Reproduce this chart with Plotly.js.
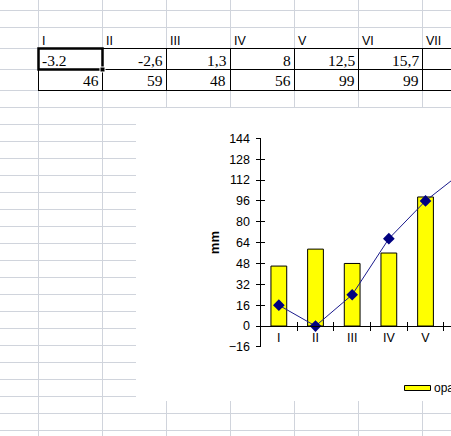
<!DOCTYPE html>
<html>
<head>
<meta charset="utf-8">
<script src="https://cdn.plot.ly/plotly-3.0.1.min.js"></script>
<style>
html,body{margin:0;padding:0;overflow:hidden;background:#fff;}
#chart{width:451px;height:436px;}
</style>
</head>
<body>
<div id="chart"></div>
<script>
// ---- data ----
const months = ['I','II','III','IV','V','VI'];
const headerLabels = ['I','II','III','IV','V','VI','VII'];
const tempLabels = ['-3.2','-2,6','1,3','8','12,5','15,7'];
const precip = [46,59,48,56,99,99];
const lineValues = [16,0,24,67,96,118];
const barName = 'opady';

// ---- page geometry (pixels) ----
const W = 451, H = 436;
const X = p => p / W;
const Y = p => 1 - p / H;
const gridColor = '#d0d4dc';
const colEdges = [38,102,166,230,294,358,422];
const rowEdges = [10,27,48,69,90];
for (let r = 107; r <= 436; r += 17) rowEdges.push(r);
const box = {x0:136, y0:108, y1:401};

const shapes = [];
// spreadsheet grid
rowEdges.forEach(r => shapes.push({type:'line', xref:'paper', yref:'paper', x0:0, x1:1, y0:Y(r+0.5), y1:Y(r+0.5), line:{color:gridColor, width:1}, layer:'below'}));
colEdges.forEach(c => shapes.push({type:'line', xref:'paper', yref:'paper', x0:X(c+0.5), x1:X(c+0.5), y0:0, y1:1, line:{color:gridColor, width:1}, layer:'below'}));
// chart area (white)
shapes.push({type:'rect', xref:'paper', yref:'paper', x0:X(box.x0), x1:1.05, y0:Y(box.y1), y1:Y(box.y0), fillcolor:'#ffffff', line:{width:0}, layer:'below'});
// table borders
[48,69,90].forEach(r => shapes.push({type:'line', xref:'paper', yref:'paper', x0:X(38), x1:1, y0:Y(r+0.5), y1:Y(r+0.5), line:{color:'#000', width:1}}));
colEdges.forEach(c => shapes.push({type:'line', xref:'paper', yref:'paper', x0:X(c+0.5), x1:X(c+0.5), y0:Y(48), y1:Y(91), line:{color:'#000', width:1}}));
// selected cell
shapes.push({type:'rect', xref:'paper', yref:'paper', x0:X(38.5), x1:X(102.5), y0:Y(69.5), y1:Y(48.5), line:{color:'#000', width:2.5}});
shapes.push({type:'rect', xref:'paper', yref:'paper', x0:X(100), x1:X(105), y0:Y(72), y1:Y(67), fillcolor:'#000', line:{color:'#fff', width:1}});
// legend symbol
shapes.push({type:'rect', xref:'paper', yref:'paper', x0:X(404.5), x1:X(430.5), y0:Y(390.5), y1:Y(385.5), fillcolor:'#FFFF00', line:{color:'#000', width:1}});

const annotations = [];
headerLabels.forEach((t,i) => annotations.push({text:t, xref:'paper', yref:'paper', x:X(colEdges[i]+2), y:Y(41), xanchor:'left', yanchor:'middle', showarrow:false, font:{family:'Liberation Sans, Arial', size:12.5, color:'#000'}}));
tempLabels.forEach((t,i) => {
  const left = i === 0;
  annotations.push({text:t, xref:'paper', yref:'paper', x: left ? X(colEdges[i]+2) : X(colEdges[i+1]-1), y:Y(60), xanchor: left ? 'left':'right', yanchor:'middle', showarrow:false, font:{family:'Liberation Serif, Times New Roman', size:15.5, color:'#000'}});
});
precip.forEach((v,i) => annotations.push({text:String(v), xref:'paper', yref:'paper', x:X(colEdges[i+1]-1.5), y:Y(81), xanchor:'right', yanchor:'middle', showarrow:false, font:{family:'Liberation Serif, Times New Roman', size:15.5, color:'#000'}}));
annotations.push({text:barName, xref:'paper', yref:'paper', x:X(432), y:Y(388), xanchor:'left', yanchor:'middle', showarrow:false, font:{family:'Liberation Sans, Arial', size:12, color:'#000'}});

// ---- chart geometry ----
const plotLeft = 260.5, catW = 36.67;
const yDom = [Y(346.9), Y(138.3)];
const yRange = [-16,144];
const xRange = [-0.5, -0.5 + (W - plotLeft)/catW];
const zeroPos = yDom[0] + (0 - yRange[0])/(yRange[1]-yRange[0])*(yDom[1]-yDom[0]);
const tickFont = {family:'Liberation Sans, Arial', size:12.5, color:'#000'};

const traces = [
  {type:'bar', name:barName, x:months, y:precip, width:0.43, marker:{color:'#FFFF00', line:{color:'#000', width:1}}, showlegend:false},
  {type:'scatter', mode:'lines+markers', name:'temperatura', x:months, y:lineValues, line:{color:'#1a1a8c', width:1}, marker:{symbol:'diamond', size:9, color:'#000080'}, showlegend:false},
  {type:'scatter', x:[], y:[], xaxis:'x2', yaxis:'y2', showlegend:false, hoverinfo:'skip'}
];

const layout = {
  width:W, height:H,
  margin:{l:0,r:0,t:0,b:0, autoexpand:false},
  paper_bgcolor:'#ffffff', plot_bgcolor:'rgba(0,0,0,0)',
  showlegend:false,
  bargap:0.5,
  xaxis:{domain:[X(plotLeft),1], type:'category', range:xRange, anchor:'free', position:zeroPos,
    ticks:'outside', ticklen:4, tickson:'boundaries', tickcolor:'#000', showline:true, linecolor:'#000', linewidth:1,
    showgrid:false, zeroline:false, tickfont:tickFont, automargin:false, fixedrange:true},
  xaxis2:{overlaying:'x', type:'linear', range:xRange, anchor:'free', position:zeroPos, tick0:0.5, dtick:1,
    ticks:'inside', ticklen:4, tickcolor:'#000', showticklabels:false, showline:false, showgrid:false, zeroline:false},
  yaxis:{domain:yDom, range:yRange, tick0:0, dtick:16, anchor:'x', ticks:'outside', ticklen:4, tickcolor:'#000',
    showline:true, linecolor:'#000', linewidth:1, showgrid:false, zeroline:false, tickfont:tickFont, ticklabelstandoff:3,
    automargin:false,
    title:{text:'mm', font:{family:'Liberation Sans, Arial', size:13, color:'#000', weight:'bold'}, standoff:6}},
  yaxis2:{overlaying:'y', range:yRange, tick0:0, dtick:16, anchor:'x', ticks:'inside', ticklen:4, tickcolor:'#000',
    showticklabels:false, showline:false, showgrid:false, zeroline:false},
  shapes:shapes,
  annotations:annotations
};

Plotly.newPlot('chart', traces, layout, {displayModeBar:false, staticPlot:true});
</script>
</body>
</html>
